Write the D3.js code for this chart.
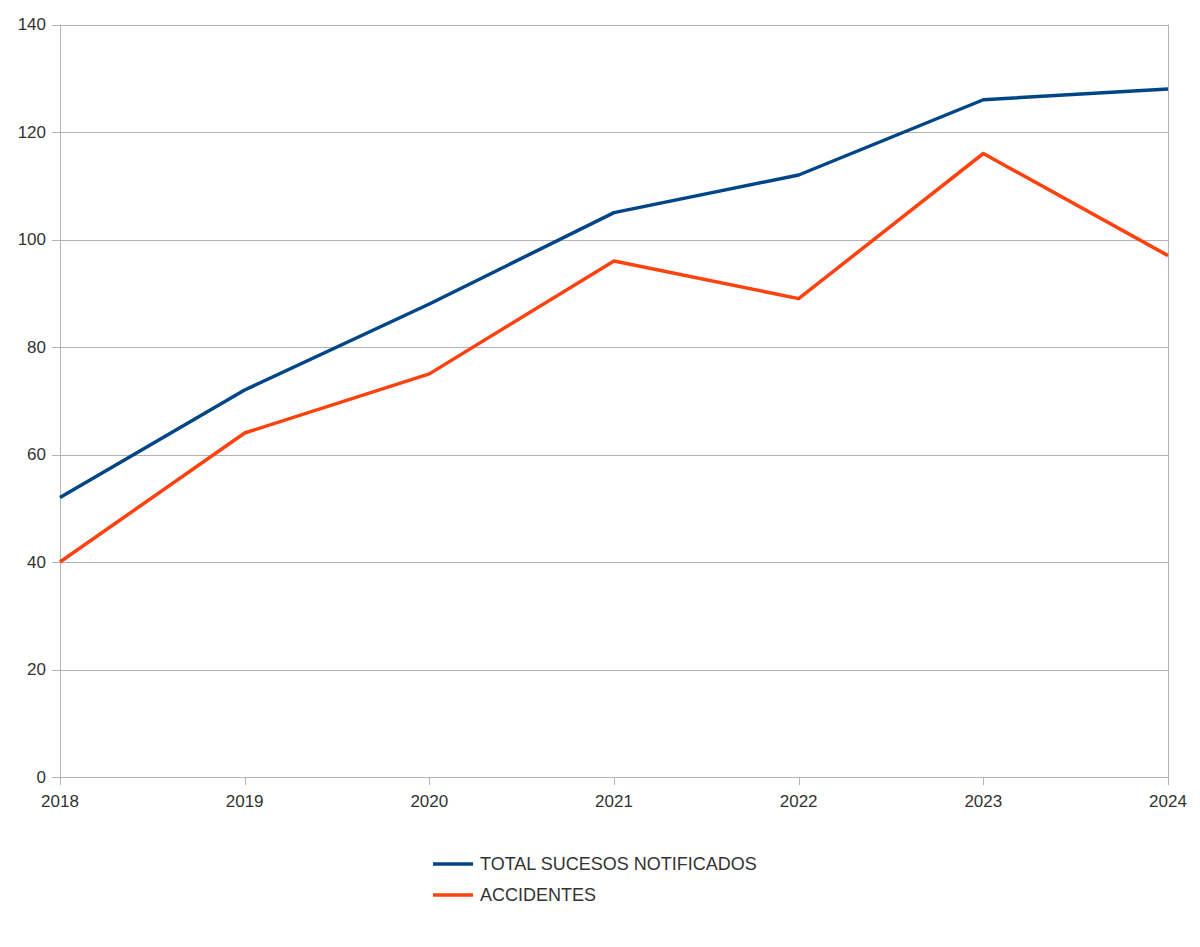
<!DOCTYPE html>
<html>
<head>
<meta charset="utf-8">
<script src="https://cdn.jsdelivr.net/npm/d3@7"></script>
<style>
  body { margin: 0; background: #fff; }
  text { font-family: "Liberation Sans", Arial, sans-serif; fill: #333; }
</style>
</head>
<body>
<div id="chart"></div>
<script>
var years = ["2018", "2019", "2020", "2021", "2022", "2023", "2024"];
var totalSucesos = [52, 72, 88, 105, 112, 126, 128];
var accidentes = [40, 64, 75, 96, 89, 116, 97];
var yTicks = [0, 20, 40, 60, 80, 100, 120, 140];
var seriesNames = ["TOTAL SUCESOS NOTIFICADOS", "ACCIDENTES"];
var seriesColors = ["#004586", "#ff420e"];

var width = 1200, height = 947;
var margin = {top: 24.5, right: 32, bottom: 170, left: 60};

var svg = d3.select("#chart").append("svg")
    .attr("width", width)
    .attr("height", height);

var x = d3.scalePoint()
    .domain(years)
    .range([margin.left, width - margin.right]);

var y = d3.scaleLinear()
    .domain([0, 140])
    .range([height - margin.bottom, margin.top]);

// grid lines
svg.append("g")
    .selectAll("line")
    .data(yTicks)
    .enter()
    .append("line")
    .attr("x1", margin.left - 8)
    .attr("x2", width - margin.right)
    .attr("y1", d => Math.round(y(d)) + 0.5)
    .attr("y2", d => Math.round(y(d)) + 0.5)
    .attr("stroke", "#b3b3b3")
    .attr("stroke-width", 1);

// y axis labels
svg.append("g")
    .selectAll("text")
    .data(yTicks)
    .enter()
    .append("text")
    .attr("x", margin.left - 14)
    .attr("y", d => y(d))
    .attr("dy", "0.35em")
    .attr("text-anchor", "end")
    .style("font-size", "17px")
    .text(d => d);

// vertical axis lines at left and right edges
[years[0], years[years.length - 1]].forEach(function(yr) {
    svg.append("line")
        .attr("x1", Math.round(x(yr)) + 0.5)
        .attr("x2", Math.round(x(yr)) + 0.5)
        .attr("y1", margin.top)
        .attr("y2", height - margin.bottom)
        .attr("stroke", "#b3b3b3");
});

// x ticks
svg.append("g")
    .selectAll("line")
    .data(years)
    .enter()
    .append("line")
    .attr("x1", d => Math.round(x(d)) + 0.5)
    .attr("x2", d => Math.round(x(d)) + 0.5)
    .attr("y1", height - margin.bottom)
    .attr("y2", height - margin.bottom + 8)
    .attr("stroke", "#b3b3b3");

svg.append("g")
    .selectAll("text")
    .data(years)
    .enter()
    .append("text")
    .attr("x", d => x(d))
    .attr("y", height - margin.bottom + 30)
    .attr("text-anchor", "middle")
    .style("font-size", "17px")
    .text(d => d);

// lines
var line = d3.line()
    .x((d, i) => x(years[i]))
    .y(d => y(d));

[totalSucesos, accidentes].forEach(function(series, i) {
    svg.append("path")
        .datum(series)
        .attr("fill", "none")
        .attr("stroke", seriesColors[i])
        .attr("stroke-width", 3.5)
        .attr("stroke-linejoin", "round")
        .attr("d", line);
});

// legend
var legend = svg.append("g").attr("transform", "translate(433, 864)");
seriesNames.forEach(function(name, i) {
    var g = legend.append("g").attr("transform", "translate(0," + (i * 31) + ")");
    g.append("line")
        .attr("x1", 0).attr("x2", 40)
        .attr("y1", 0).attr("y2", 0)
        .attr("stroke", seriesColors[i])
        .attr("stroke-width", 3.5);
    g.append("text")
        .attr("x", 47)
        .attr("y", 0)
        .attr("dy", "0.35em")
        .style("font-size", "18px")
        .text(name);
});
</script>
</body>
</html>
